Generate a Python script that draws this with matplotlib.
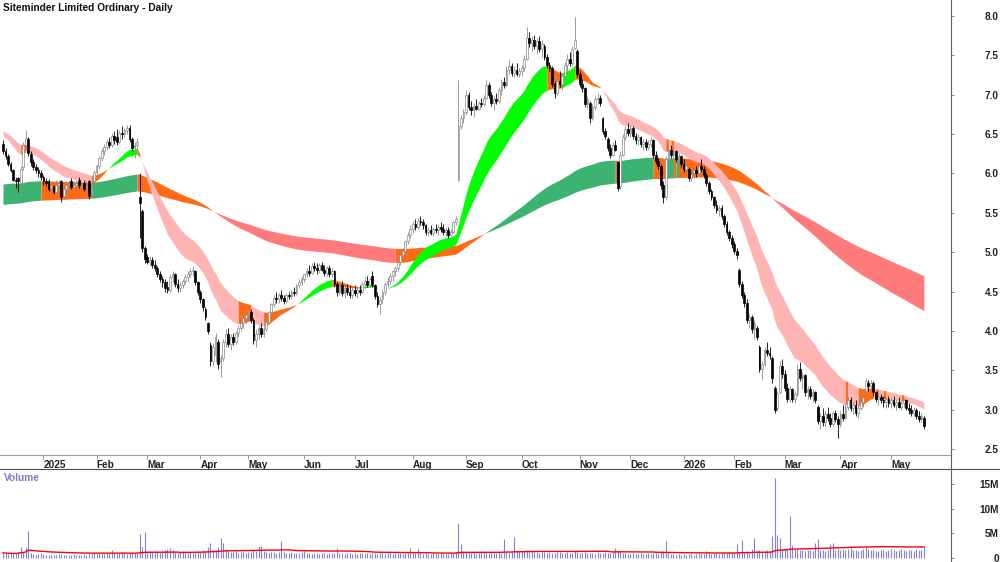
import numpy as np
import pandas as pd
import matplotlib
matplotlib.use('Agg')
import matplotlib.pyplot as plt
from matplotlib.lines import Line2D

plt.rcParams['font.family'] = ['Liberation Sans', 'DejaVu Sans']

title = 'Siteminder Limited Ordinary - Daily'
first_day = '2024-12-06'
last_day = '2026-05-20'
asx_holidays = ['2024-12-25', '2024-12-26', '2025-01-01', '2025-01-27', '2025-04-18',
                '2025-04-21', '2025-04-25', '2025-06-09', '2025-12-25', '2025-12-26',
                '2026-01-01', '2026-01-26', '2026-04-03', '2026-04-06']

# daily open / high / low / close in A$, one line per month
opens = [
    6.38, 6.28, 6.22, 6.12, 6.05, 5.92, 5.94, 5.88, 6.08, 6.36, 6.44, 6.25, 6.14, 6.08, 6.04, 6.00,
    5.95, 5.90, 5.90, 5.82, 5.84, 5.77, 5.86, 5.90, 5.72, 5.80, 5.86, 5.90, 5.83, 5.86, 5.92, 5.85, 5.88, 5.80, 5.90, 5.74, 5.90,
    6.02, 6.10, 6.20, 6.28, 6.34, 6.40, 6.36, 6.48, 6.46, 6.40, 6.52, 6.50, 6.55, 6.58, 6.44, 6.32, 6.36, 5.70, 5.52, 5.05,
    4.94, 4.88, 4.90, 4.84, 4.80, 4.72, 4.66, 4.62, 4.56, 4.52, 4.68, 4.72, 4.60, 4.54, 4.58, 4.64, 4.68, 4.72, 4.76, 4.76, 4.62,
    4.50, 4.40, 4.28, 4.10, 3.82, 3.62, 3.70, 3.86, 3.62, 3.66, 3.86, 3.96, 3.84, 3.92, 3.86, 3.98, 4.04, 4.10, 4.16,
    4.20, 4.24, 4.14, 3.88, 3.96, 4.04, 3.96, 4.02, 4.12, 4.24, 4.34, 4.42, 4.40, 4.46, 4.42, 4.38, 4.46, 4.44, 4.50, 4.48, 4.58, 4.62,
    4.66, 4.72, 4.76, 4.74, 4.82, 4.80, 4.78, 4.84, 4.78, 4.74, 4.80, 4.72, 4.76, 4.60, 4.50, 4.58, 4.48, 4.54, 4.50, 4.46,
    4.52, 4.48, 4.52, 4.50, 4.60, 4.64, 4.58, 4.70, 4.58, 4.44, 4.34, 4.40, 4.50, 4.60, 4.64, 4.70, 4.76, 4.80, 4.88, 4.96, 5.02, 5.14, 5.22,
    5.30, 5.36, 5.32, 5.40, 5.38, 5.34, 5.26, 5.28, 5.24, 5.30, 5.28, 5.32, 5.30, 5.26, 5.28, 5.22, 5.26, 5.38, 5.92, 6.60, 6.70,
    6.78, 7.00, 6.84, 6.80, 6.86, 6.82, 6.90, 6.88, 6.96, 7.12, 7.00, 6.90, 6.94, 6.92, 7.06, 7.16, 7.12, 7.32, 7.36, 7.28, 7.32, 7.26,
    7.30, 7.34, 7.46, 7.72, 7.66, 7.70, 7.62, 7.68, 7.58, 7.62, 7.48, 7.38, 7.34, 7.14, 7.02, 7.18, 7.14, 7.24, 7.38, 7.46, 7.40, 7.60, 7.56,
    7.26, 7.14, 7.08, 6.88, 6.90, 6.70, 6.84, 6.94, 6.96, 6.70, 6.54, 6.44, 6.32, 6.24, 6.36, 6.14, 5.84, 6.24, 6.46, 6.56,
    6.52, 6.58, 6.48, 6.42, 6.46, 6.38, 6.40, 6.34, 6.38, 6.42, 6.24, 6.16, 6.10, 5.86, 5.70, 6.18, 6.30, 6.24, 6.28, 6.18, 6.22,
    6.12, 6.06, 6.06, 5.94, 6.00, 6.04, 6.00, 6.10, 6.06, 5.98, 5.88, 5.78, 5.70, 5.60, 5.54, 5.56, 5.46, 5.36, 5.26, 5.18,
    5.10, 5.02, 4.78, 4.60, 4.46, 4.36, 4.14, 4.18, 4.02, 4.04, 3.80, 3.52, 3.58, 3.76, 3.72, 3.66, 3.28, 3.02, 3.22, 3.56,
    3.46, 3.28, 3.14, 3.26, 3.14, 3.20, 3.52, 3.40, 3.44, 3.22, 3.26, 3.18, 3.22, 3.04, 2.86, 2.92, 2.84, 2.94, 2.90, 2.82, 2.96, 2.88,
    2.82, 2.94, 2.90, 3.04, 3.12, 3.02, 3.06, 2.96, 3.02, 3.10, 3.24, 3.34, 3.30, 3.34, 3.22, 3.14, 3.16, 3.12, 3.10, 3.14,
    3.08, 3.12, 3.06, 3.10, 3.04, 3.08, 3.12, 3.02, 3.00, 2.96, 3.00, 2.92, 2.88, 2.90,
]
highs = [
    6.42, 6.32, 6.25, 6.15, 6.06, 5.95, 5.96, 6.10, 6.40, 6.55, 6.46, 6.28, 6.18, 6.12, 6.08, 6.04,
    5.98, 5.94, 5.93, 5.88, 5.86, 5.92, 5.92, 5.92, 5.82, 5.90, 5.92, 5.94, 5.90, 5.92, 5.95, 5.92, 5.92, 5.90, 5.92, 5.90, 6.05,
    6.12, 6.22, 6.32, 6.38, 6.44, 6.46, 6.52, 6.54, 6.56, 6.55, 6.60, 6.58, 6.62, 6.62, 6.46, 6.40, 6.45, 6.00, 5.55, 5.08,
    4.98, 4.95, 4.94, 4.90, 4.82, 4.76, 4.70, 4.66, 4.64, 4.72, 4.76, 4.74, 4.66, 4.62, 4.66, 4.72, 4.76, 4.80, 4.82, 4.78, 4.64,
    4.52, 4.42, 4.30, 4.12, 3.86, 3.85, 3.98, 3.90, 3.70, 3.90, 4.02, 4.04, 3.96, 3.98, 4.00, 4.08, 4.14, 4.20, 4.24,
    4.28, 4.28, 4.16, 4.02, 4.08, 4.10, 4.06, 4.14, 4.26, 4.36, 4.46, 4.50, 4.48, 4.52, 4.46, 4.48, 4.50, 4.52, 4.56, 4.60, 4.66, 4.70,
    4.74, 4.80, 4.84, 4.86, 4.88, 4.86, 4.86, 4.88, 4.84, 4.82, 4.84, 4.80, 4.78, 4.62, 4.62, 4.64, 4.58, 4.60, 4.58, 4.56,
    4.58, 4.56, 4.58, 4.62, 4.68, 4.70, 4.68, 4.76, 4.60, 4.50, 4.44, 4.52, 4.62, 4.68, 4.74, 4.78, 4.82, 4.90, 4.98, 5.06, 5.16, 5.26, 5.34,
    5.40, 5.42, 5.44, 5.46, 5.42, 5.36, 5.32, 5.34, 5.32, 5.36, 5.34, 5.38, 5.36, 5.32, 5.32, 5.30, 5.40, 5.46, 7.19, 6.74, 6.82,
    7.06, 7.04, 6.92, 6.90, 6.94, 6.92, 6.96, 7.00, 7.19, 7.16, 7.04, 6.98, 7.02, 7.10, 7.20, 7.22, 7.36, 7.44, 7.40, 7.36, 7.40, 7.34,
    7.38, 7.50, 7.86, 7.80, 7.74, 7.76, 7.72, 7.74, 7.70, 7.64, 7.52, 7.42, 7.36, 7.18, 7.22, 7.30, 7.28, 7.42, 7.52, 7.54, 7.62, 7.99, 7.58,
    7.30, 7.20, 7.10, 6.98, 6.92, 6.88, 6.98, 7.02, 7.00, 6.72, 6.58, 6.46, 6.38, 6.40, 6.42, 6.16, 6.28, 6.50, 6.60, 6.64,
    6.62, 6.60, 6.52, 6.50, 6.48, 6.44, 6.44, 6.42, 6.46, 6.44, 6.28, 6.20, 6.12, 5.90, 6.22, 6.34, 6.36, 6.32, 6.30, 6.26, 6.24,
    6.18, 6.14, 6.08, 6.04, 6.08, 6.10, 6.14, 6.18, 6.10, 6.00, 5.90, 5.80, 5.72, 5.66, 5.60, 5.60, 5.48, 5.40, 5.28, 5.22,
    5.14, 5.06, 4.80, 4.64, 4.50, 4.40, 4.22, 4.20, 4.14, 4.06, 3.82, 3.62, 3.80, 3.86, 3.80, 3.68, 3.30, 3.24, 3.62, 3.64,
    3.50, 3.34, 3.30, 3.28, 3.24, 3.58, 3.60, 3.48, 3.46, 3.30, 3.30, 3.26, 3.24, 3.06, 2.96, 3.02, 2.98, 3.04, 2.96, 2.98, 3.00, 2.92,
    2.98, 3.06, 3.08, 3.16, 3.16, 3.10, 3.12, 3.06, 3.14, 3.20, 3.40, 3.38, 3.38, 3.36, 3.24, 3.20, 3.20, 3.18, 3.16, 3.18,
    3.16, 3.18, 3.14, 3.16, 3.12, 3.16, 3.14, 3.08, 3.06, 3.04, 3.02, 2.98, 2.96, 2.92,
]
lows = [
    6.25, 6.18, 6.10, 6.02, 5.90, 5.82, 5.76, 5.84, 6.05, 6.30, 6.22, 6.10, 6.05, 6.00, 5.96, 5.92,
    5.86, 5.84, 5.78, 5.76, 5.74, 5.75, 5.82, 5.64, 5.68, 5.76, 5.82, 5.80, 5.78, 5.82, 5.82, 5.80, 5.78, 5.78, 5.68, 5.72, 5.88,
    5.98, 6.06, 6.16, 6.24, 6.30, 6.32, 6.34, 6.38, 6.36, 6.38, 6.44, 6.46, 6.50, 6.40, 6.28, 6.20, 6.28, 5.18, 5.00, 4.86,
    4.85, 4.82, 4.80, 4.76, 4.68, 4.62, 4.56, 4.50, 4.48, 4.50, 4.62, 4.56, 4.50, 4.50, 4.55, 4.60, 4.64, 4.68, 4.70, 4.58, 4.46,
    4.36, 4.26, 4.14, 3.96, 3.55, 3.56, 3.60, 3.52, 3.42, 3.62, 3.80, 3.80, 3.76, 3.82, 3.84, 3.92, 4.00, 4.04, 4.10,
    4.16, 4.10, 3.84, 3.80, 3.90, 3.92, 3.92, 4.00, 4.10, 4.20, 4.30, 4.36, 4.36, 4.38, 4.34, 4.36, 4.40, 4.40, 4.44, 4.46, 4.54, 4.58,
    4.62, 4.68, 4.70, 4.72, 4.76, 4.72, 4.74, 4.76, 4.70, 4.70, 4.68, 4.68, 4.56, 4.44, 4.46, 4.44, 4.42, 4.46, 4.42, 4.42,
    4.44, 4.42, 4.46, 4.48, 4.54, 4.56, 4.56, 4.56, 4.40, 4.30, 4.22, 4.36, 4.46, 4.56, 4.60, 4.64, 4.70, 4.76, 4.84, 4.92, 5.00, 5.10, 5.18,
    5.24, 5.28, 5.30, 5.34, 5.30, 5.22, 5.20, 5.22, 5.20, 5.24, 5.22, 5.26, 5.22, 5.20, 5.18, 5.20, 5.24, 5.34, 5.90, 6.56, 6.64,
    6.74, 6.80, 6.74, 6.72, 6.80, 6.80, 6.84, 6.86, 6.94, 6.96, 6.86, 6.80, 6.88, 6.90, 7.00, 7.08, 7.10, 7.26, 7.24, 7.22, 7.24, 7.22,
    7.24, 7.30, 7.44, 7.60, 7.56, 7.58, 7.52, 7.54, 7.48, 7.44, 7.34, 7.30, 7.10, 6.96, 7.00, 7.10, 7.06, 7.20, 7.30, 7.36, 7.38, 7.58, 7.22,
    7.10, 7.04, 6.84, 6.82, 6.64, 6.68, 6.80, 6.88, 6.86, 6.50, 6.44, 6.28, 6.20, 6.22, 6.28, 5.78, 5.80, 6.22, 6.42, 6.48,
    6.46, 6.44, 6.38, 6.36, 6.34, 6.30, 6.30, 6.30, 6.34, 6.20, 6.12, 6.06, 5.80, 5.62, 5.66, 6.14, 6.20, 6.18, 6.14, 6.10, 6.08,
    6.02, 5.98, 5.90, 5.90, 5.94, 5.96, 5.98, 6.02, 5.94, 5.84, 5.74, 5.66, 5.56, 5.50, 5.46, 5.42, 5.32, 5.22, 5.14, 5.06,
    4.98, 4.92, 4.56, 4.42, 4.30, 4.10, 4.04, 3.98, 3.90, 3.88, 3.48, 3.38, 3.56, 3.68, 3.64, 3.34, 2.96, 2.98, 3.20, 3.40,
    3.24, 3.10, 3.10, 3.10, 3.08, 3.18, 3.36, 3.26, 3.18, 3.14, 3.14, 3.10, 3.08, 2.82, 2.76, 2.80, 2.80, 2.86, 2.78, 2.80, 2.84, 2.64,
    2.78, 2.86, 2.88, 3.00, 2.98, 2.94, 2.92, 2.90, 3.00, 3.04, 3.22, 3.24, 3.24, 3.18, 3.10, 3.06, 3.08, 3.04, 3.02, 3.04,
    3.02, 3.04, 3.00, 3.02, 3.00, 3.04, 3.00, 2.94, 2.92, 2.92, 2.88, 2.84, 2.84, 2.76,
]
closes = [
    6.28, 6.22, 6.12, 6.05, 5.92, 5.90, 5.90, 6.06, 6.36, 6.45, 6.26, 6.14, 6.08, 6.04, 6.00, 5.95,
    5.90, 5.88, 5.80, 5.84, 5.77, 5.86, 5.88, 5.70, 5.80, 5.86, 5.87, 5.83, 5.86, 5.88, 5.85, 5.86, 5.80, 5.86, 5.72, 5.86, 6.02,
    6.10, 6.20, 6.28, 6.34, 6.40, 6.36, 6.48, 6.42, 6.40, 6.52, 6.50, 6.55, 6.58, 6.44, 6.32, 6.36, 6.40, 5.62, 5.05, 4.92,
    4.88, 4.90, 4.84, 4.80, 4.72, 4.66, 4.62, 4.55, 4.52, 4.68, 4.72, 4.60, 4.54, 4.58, 4.64, 4.68, 4.72, 4.76, 4.78, 4.62, 4.50,
    4.40, 4.30, 4.18, 4.00, 3.62, 3.80, 3.92, 3.58, 3.66, 3.86, 3.96, 3.84, 3.92, 3.86, 3.98, 4.04, 4.10, 4.16, 4.20,
    4.24, 4.14, 3.88, 3.96, 4.04, 3.96, 4.02, 4.12, 4.24, 4.34, 4.42, 4.40, 4.46, 4.42, 4.38, 4.46, 4.44, 4.50, 4.48, 4.58, 4.62, 4.66,
    4.72, 4.76, 4.74, 4.82, 4.80, 4.78, 4.84, 4.78, 4.74, 4.80, 4.72, 4.76, 4.60, 4.50, 4.58, 4.48, 4.54, 4.50, 4.46, 4.52,
    4.48, 4.52, 4.50, 4.60, 4.64, 4.58, 4.66, 4.58, 4.44, 4.34, 4.40, 4.50, 4.60, 4.64, 4.70, 4.76, 4.80, 4.88, 4.96, 5.02, 5.14, 5.22, 5.30,
    5.36, 5.32, 5.40, 5.38, 5.34, 5.26, 5.28, 5.24, 5.30, 5.28, 5.32, 5.30, 5.26, 5.28, 5.22, 5.26, 5.38, 5.42, 6.60, 6.70, 6.78,
    7.00, 6.84, 6.80, 6.86, 6.82, 6.90, 6.88, 6.96, 7.12, 7.00, 6.90, 6.94, 6.92, 7.06, 7.16, 7.12, 7.32, 7.36, 7.28, 7.32, 7.26, 7.30,
    7.34, 7.46, 7.72, 7.66, 7.70, 7.62, 7.68, 7.58, 7.64, 7.48, 7.38, 7.34, 7.14, 7.02, 7.18, 7.14, 7.24, 7.38, 7.46, 7.40, 7.58, 7.70, 7.26,
    7.14, 7.08, 6.88, 6.94, 6.70, 6.84, 6.94, 6.96, 6.90, 6.54, 6.48, 6.32, 6.24, 6.36, 6.30, 5.82, 6.24, 6.46, 6.56, 6.52,
    6.58, 6.48, 6.42, 6.46, 6.38, 6.40, 6.34, 6.38, 6.42, 6.24, 6.16, 6.10, 5.86, 5.70, 6.18, 6.30, 6.24, 6.28, 6.18, 6.22, 6.12,
    6.06, 6.10, 5.94, 6.00, 6.04, 6.00, 6.10, 6.06, 5.98, 5.88, 5.78, 5.70, 5.60, 5.54, 5.56, 5.46, 5.36, 5.26, 5.18, 5.10,
    5.02, 4.96, 4.60, 4.46, 4.36, 4.14, 4.18, 4.02, 4.10, 3.92, 3.52, 3.58, 3.76, 3.72, 3.70, 3.40, 3.00, 3.20, 3.56, 3.46,
    3.28, 3.14, 3.26, 3.14, 3.20, 3.52, 3.40, 3.44, 3.22, 3.26, 3.18, 3.22, 3.12, 2.86, 2.92, 2.84, 2.94, 2.90, 2.82, 2.96, 2.88, 2.82,
    2.94, 2.90, 3.04, 3.12, 3.02, 3.06, 2.96, 3.02, 3.10, 3.16, 3.36, 3.30, 3.34, 3.22, 3.14, 3.16, 3.12, 3.10, 3.14, 3.08,
    3.12, 3.06, 3.10, 3.04, 3.08, 3.12, 3.02, 3.00, 2.96, 3.00, 2.92, 2.88, 2.92, 2.80,
]
# daily volume, millions of shares
volumes = [
    1.0, 0.9, 0.8, 0.9, 0.7, 0.8, 1.1, 2.1, 1.2, 2.1, 5.5, 1.0, 0.8, 0.6, 0.7, 0.9,
    0.7, 0.6, 0.5, 0.6, 0.5, 0.6, 0.7, 0.8, 0.6, 0.5, 0.6, 0.5, 0.7, 0.6, 0.5, 0.6, 0.7, 0.5, 0.8, 0.7, 0.9,
    0.8, 0.9, 0.7, 0.8, 1.0, 0.8, 1.5, 0.9, 0.8, 1.0, 1.2, 0.9, 0.8, 0.9, 1.0, 0.9, 1.0, 4.8, 2.2, 5.2,
    1.4, 1.3, 1.2, 1.3, 1.1, 1.0, 1.2, 1.6, 1.8, 2.0, 1.6, 1.2, 1.0, 1.1, 1.3, 1.0, 0.9, 1.2, 1.0, 1.1, 1.3,
    1.2, 1.6, 1.4, 2.2, 3.0, 1.6, 1.5, 2.2, 4.1, 2.9, 1.8, 1.4, 1.2, 1.1, 1.3, 1.0, 1.2, 1.1, 1.0,
    1.1, 1.2, 1.5, 1.3, 2.3, 2.4, 1.3, 1.1, 1.0, 1.2, 1.1, 1.0, 1.1, 3.5, 1.2, 1.0, 0.9, 1.1, 1.0, 0.9, 1.0, 1.1,
    1.3, 0.9, 1.0, 0.8, 0.9, 1.0, 0.8, 0.9, 1.0, 0.8, 0.9, 1.0, 0.9, 2.0, 1.0, 0.9, 0.8, 0.9, 1.0, 0.8,
    0.9, 0.8, 0.9, 1.0, 0.8, 0.9, 0.8, 1.0, 0.9, 0.8, 1.0, 0.9, 0.8, 0.9, 1.0, 0.8, 0.9, 1.0, 0.9, 0.8, 1.0, 0.9, 2.0,
    0.9, 1.0, 1.7, 0.9, 0.8, 0.9, 0.7, 0.8, 0.9, 0.7, 0.8, 0.9, 0.8, 0.7, 0.8, 0.9, 1.0, 1.1, 7.0, 2.7, 1.3,
    1.2, 1.0, 0.9, 1.1, 0.8, 1.0, 1.3, 1.2, 1.0, 0.9, 1.1, 1.0, 0.9, 1.2, 1.0, 3.9, 1.1, 1.0, 1.2, 4.2, 1.3, 1.4,
    1.3, 1.4, 1.5, 1.2, 1.4, 1.1, 1.2, 1.0, 1.1, 1.2, 1.0, 1.1, 0.9, 1.0, 1.1, 1.2, 1.0, 0.9, 1.1, 1.0, 0.9, 1.4, 1.2,
    1.0, 0.9, 1.1, 1.0, 0.9, 1.0, 0.8, 1.1, 0.9, 1.0, 1.2, 1.0, 0.9, 1.1, 2.0, 1.3, 1.1, 1.0, 0.9, 0.8,
    0.8, 0.9, 0.7, 0.8, 0.9, 0.7, 0.8, 0.9, 0.8, 1.0, 0.9, 0.8, 1.1, 1.3, 3.3, 1.0, 0.8, 0.7, 0.6, 0.7, 0.6,
    0.7, 0.6, 0.8, 0.7, 0.6, 0.8, 0.9, 0.7, 0.8, 1.3, 0.9, 0.8, 0.9, 1.0, 0.8, 0.9, 1.0, 0.9, 1.1, 1.0,
    0.9, 2.7, 1.2, 3.7, 1.1, 1.3, 1.0, 1.8, 4.0, 1.4, 1.5, 1.2, 1.3, 1.6, 1.4, 4.5, 16.2, 4.7, 4.0, 1.8,
    1.7, 1.6, 8.5, 2.5, 1.8, 1.7, 1.6, 1.5, 1.4, 1.6, 1.5, 1.4, 3.0, 3.8, 1.6, 1.5, 1.4, 1.6, 2.7, 3.0, 1.5, 1.7,
    1.6, 1.8, 1.5, 1.7, 1.9, 1.6, 1.5, 1.4, 1.6, 1.8, 2.1, 1.7, 1.5, 1.6, 1.4, 1.3, 1.5, 1.6, 1.4, 1.5,
    1.7, 1.5, 1.4, 1.6, 1.8, 1.5, 1.4, 1.6, 1.5, 1.3, 1.7, 1.5, 1.6, 2.3,
]

# ribbon averages (fast, slow) and their values just before the first bar
short_periods = (20, 35)
short_start = (6.50, 6.56)
long_periods = (150, 250)
long_start = (5.86, 5.60)
volume_ma_days = 60

price_ticks = [2.5, 3.0, 3.5, 4.0, 4.5, 5.0, 5.5, 6.0, 6.5, 7.0, 7.5, 8.0]
volume_ticks = [0, 5, 10, 15]
volume_tick_labels = ['0', '5M', '10M', '15M']

dates = pd.bdate_range(first_day, last_day, freq='C', holidays=asx_holidays)
x = np.arange(len(dates))
o, h, l, c = (np.array(a) for a in (opens, highs, lows, closes))


def ema(period, seed):
    s = pd.Series([seed] + closes)
    return s.ewm(span=period, adjust=False).mean().values[1:]


def draw_ribbon(ax, fast, slow, up_col, down_col, mix_col):
    slope = np.diff(fast)
    slope = np.r_[slope[0], slope]
    cols = np.where((fast > slow) & (slope > 0), up_col,
                    np.where((fast < slow) & (slope < 0), down_col, mix_col))
    start = 0
    for i in range(1, len(cols) + 1):
        if i == len(cols) or cols[i] != cols[start]:
            a = max(start - 1, 0)
            ax.fill_between(x[a:i], fast[a:i], slow[a:i], color=cols[start], lw=0, zorder=2)
            start = i


fig = plt.figure(figsize=(10, 5.62), dpi=100)
ax = fig.add_axes([0, 1 - 455 / 562, 0.951, 455 / 562])
axv = fig.add_axes([0, 0, 0.951, 93 / 562])

orange = '#ff6a14'
draw_ribbon(ax, ema(long_periods[0], long_start[0]), ema(long_periods[1], long_start[1]),
            '#3cb371', '#ff7b7b', orange)
draw_ribbon(ax, ema(short_periods[0], short_start[0]), ema(short_periods[1], short_start[1]),
            '#00ff00', '#ffb4b4', orange)

# candles
up = c >= o
body_lo = np.minimum(o, c)
body_h = np.maximum(np.abs(c - o), 0.012)
ax.vlines(x[up], l[up], h[up], color='#8a8a8a', lw=0.6, zorder=3)
ax.vlines(x[~up], l[~up], h[~up], color='black', lw=0.6, zorder=3)
ax.bar(x[up], body_h[up], 0.7, body_lo[up], color='white', edgecolor='#8a8a8a', lw=0.5, zorder=4)
ax.bar(x[~up], body_h[~up], 0.7, body_lo[~up], color='black', edgecolor='black', lw=0.5, zorder=4)

# volume
vol = np.array(volumes)
axv.vlines(x, 0, vol, color='#8282d6', lw=0.8)
vol_ma = pd.Series(volumes).rolling(volume_ma_days, min_periods=1).mean()
axv.plot(x, vol_ma, color='#ff0000', lw=1.0)

xlim = (-3 / 2.53, 948 / 2.53)
for a in (ax, axv):
    a.set_xlim(*xlim)
    for s in ('left', 'top', 'right', 'bottom'):
        a.spines[s].set_visible(False)
    a.yaxis.tick_right()
    a.tick_params(axis='y', length=2, width=0.6, color='#777777', pad=32.5,
                  labelsize=7.2, labelcolor='#222222')

ax.set_ylim(8 - 439 / 78.75, 8 + 16 / 78.75)
ax.set_yticks(price_ticks)
ax.set_yticklabels(['%.1f' % p for p in price_ticks], fontweight='bold')

axv.set_ylim(-4.3 / 4.913, 88.7 / 4.913)
axv.set_yticks(volume_ticks)
axv.set_yticklabels(volume_tick_labels, fontweight='bold')
axv.set_xticks([])
for a in (ax, axv):
    for lab in a.get_yticklabels():
        lab.set_horizontalalignment('right')

month_idx = [i for i in range(1, len(dates)) if dates[i].month != dates[i - 1].month]
month_lab = [str(dates[i].year) if dates[i].month == 1 else dates[i].strftime('%b') for i in month_idx]
ax.set_xticks(month_idx)
ax.set_xticklabels(month_lab, fontweight='bold', ha='left')
ax.tick_params(axis='x', length=3, width=0.6, color='#888888', pad=0.5,
               labelsize=7.2, labelcolor='#222222')

# frame lines
fig.add_artist(Line2D([0, 0.951], [1 - 455 / 562] * 2, color='#a0a0a0', lw=0.8))
fig.add_artist(Line2D([0, 1], [1 - 469 / 562] * 2, color='#505050', lw=0.8))
fig.add_artist(Line2D([0.951, 0.951], [0, 1], color='#606060', lw=0.8))

fig.text(0.003, 1 - 8 / 562, title, fontsize=7.3, fontweight='bold', va='center', color='#111111')
fig.text(0.004, 1 - 478 / 562, 'Volume', fontsize=7.3, fontweight='bold', va='center', color='#7d7dc2')

fig.savefig('out.png', dpi=100)
